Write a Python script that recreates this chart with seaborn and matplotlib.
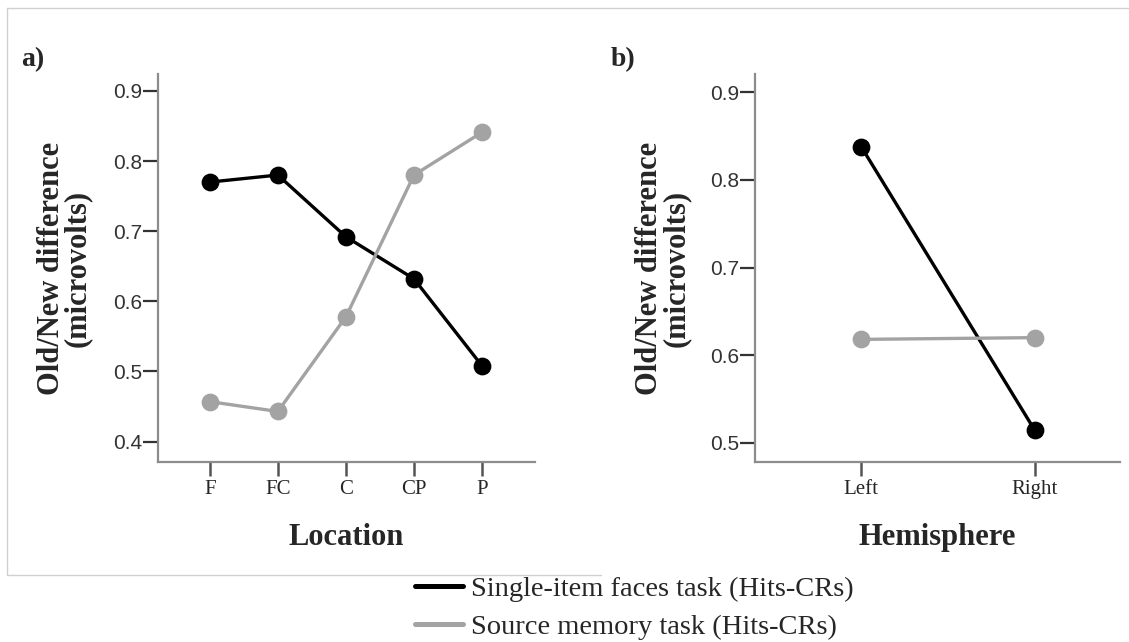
import matplotlib
matplotlib.use("Agg")
import matplotlib.pyplot as plt
from matplotlib.lines import Line2D
import seaborn as sb
import pandas as pd

# Valeurs
locations = ["F", "FC", "C", "CP", "P"]
single_loc = [0.770, 0.780, 0.692, 0.632, 0.508]
source_loc = [0.457, 0.443, 0.578, 0.780, 0.841]

hemispheres = ["Left", "Right"]
single_hemi = [0.838, 0.514]
source_hemi = [0.618, 0.620]

tasks = ["Single-item faces task (Hits-CRs)", "Source memory task (Hits-CRs)"]
colors = {tasks[0]: "#000000", tasks[1]: "#a3a3a3"}

df_loc = pd.DataFrame({
    "x": locations * 2,
    "y": single_loc + source_loc,
    "task": [tasks[0]] * len(locations) + [tasks[1]] * len(locations),
})
df_hemi = pd.DataFrame({
    "x": hemispheres * 2,
    "y": single_hemi + source_hemi,
    "task": [tasks[0]] * len(hemispheres) + [tasks[1]] * len(hemispheres),
})

sb.set_style("ticks")
serif = ["Liberation Serif", "DejaVu Serif"]
sans = ["Liberation Sans", "DejaVu Sans"]

fig = plt.figure(figsize=(11.29, 6.42), dpi=100)
ax1 = fig.add_axes([0.140, 0.2804, 0.334, 0.6043])
ax2 = fig.add_axes([0.669, 0.2804, 0.323, 0.6043])


def draw(ax, df, ylim, yticks, xlim, xlabel, ylab_x):
    ''' Trace un panneau avec les deux tâches. '''
    sb.pointplot(data=df, x="x", y="y", hue="task", palette=colors, ax=ax,
                 markers="o", linestyles="-", legend=False,
                 markersize=11, linewidth=2.4)
    ax.set_ylim(*ylim)
    ax.set_xlim(*xlim)
    ax.set_yticks(yticks)
    ax.set_yticklabels([f"{t:.1f}" for t in yticks], fontfamily=sans,
                       fontsize=15, color="#333333")
    for lab in ax.get_xticklabels():
        lab.set_fontfamily(serif)
        lab.set_fontsize(15)
    ax.set_xlabel(xlabel, fontfamily=serif, fontweight="bold", fontsize=22)
    ax.xaxis.set_label_coords(0.5, -0.156)
    ax.set_ylabel("Old/New difference\n(microvolts)", fontfamily=serif,
                  fontweight="bold", fontsize=22, linespacing=0.88)
    ax.yaxis.set_label_coords(ylab_x, 0.5)
    for side in ("top", "right"):
        ax.spines[side].set_visible(False)
    for side in ("left", "bottom"):
        ax.spines[side].set_color("#8c8c8c")
        ax.spines[side].set_linewidth(1.6)
    ax.tick_params(axis="y", length=11, width=1.6, color="#333333", pad=0.5)
    ax.tick_params(axis="x", length=10, width=1.8, color="#555555", pad=3)


draw(ax1, df_loc, (0.371, 0.924), [0.4, 0.5, 0.6, 0.7, 0.8, 0.9],
     (-0.76, 4.78), "Location", -0.175)
draw(ax2, df_hemi, (0.478, 0.921), [0.5, 0.6, 0.7, 0.8, 0.9],
     (-0.61, 1.49), "Hemisphere", -0.178)

fig.text(0.019, 0.897, "a)", fontfamily=serif, fontweight="bold", fontsize=20)
fig.text(0.541, 0.897, "b)", fontfamily=serif, fontweight="bold", fontsize=20)

# Cadre gris clair autour du panneau a)
frame = dict(color="#d0d0d0", linewidth=1.0, transform=fig.transFigure)
fig.add_artist(Line2D([0.006, 1.0], [0.988, 0.988], **frame))
fig.add_artist(Line2D([0.006, 0.006], [0.988, 0.104], **frame))
fig.add_artist(Line2D([0.006, 0.532], [0.104, 0.104], **frame))

handles = [Line2D([], [], color=colors[t], linewidth=3.6) for t in tasks]
fig.legend(handles, tasks, loc="upper left", bbox_to_anchor=(0.3676, 0.102),
           frameon=False, prop={"family": serif, "size": 20.5},
           handlelength=1.7, handletextpad=0.25, labelspacing=0.40,
           borderaxespad=0, borderpad=0)

fig.savefig("out.png", dpi=100)
